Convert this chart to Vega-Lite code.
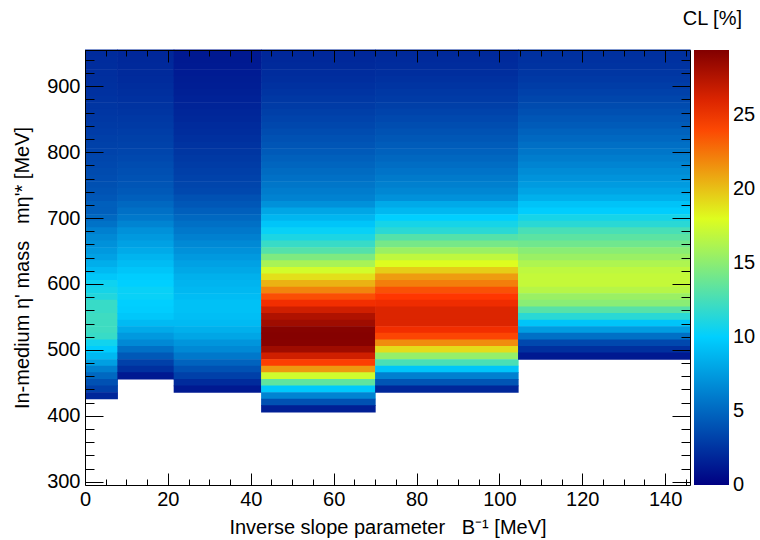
{
  "$schema": "https://vega.github.io/schema/vega-lite/v6.json",
  "width": 605,
  "height": 435,
  "autosize": {"type": "none"},
  "padding": {"left": 85, "top": 50, "right": 70, "bottom": 55},
  "background": "white",
  "title": {"text": "CL [%]", "anchor": "end", "orient": "top", "frame": "group", "dx": 52, "offset": 20, "font": "Liberation Sans", "fontSize": 20, "fontWeight": "normal", "color": "black"},
  "config": {
    "font": "Liberation Sans",
    "view": {"stroke": null},
    "axis": {"grid": false, "tickColor": "black", "domainColor": "black", "labelColor": "black", "titleColor": "black", "labelFont": "Liberation Sans", "titleFont": "Liberation Sans", "titleFontWeight": "normal", "labelFontSize": 20, "titleFontSize": 20, "tickWidth": 1, "domainWidth": 1}
  },
  "datasets": {
    "cols": [
      {"c": 1, "x1": 0, "x2": 7.8},
      {"c": 2, "x1": 7.8, "x2": 21.4},
      {"c": 3, "x1": 21.4, "x2": 42.5},
      {"c": 4, "x1": 42.5, "x2": 70},
      {"c": 5, "x1": 70, "x2": 104.5},
      {"c": 6, "x1": 104.5, "x2": 146}
    ],
    "cells": [
      {"c":1,"lo":945,"hi":955,"v":2.1},{"c":1,"lo":935,"hi":945,"v":2.12},{"c":1,"lo":925,"hi":935,"v":2.16},{"c":1,"lo":915,"hi":925,"v":2.2},{"c":1,"lo":905,"hi":915,"v":2.26},{"c":1,"lo":895,"hi":905,"v":2.32},{"c":1,"lo":885,"hi":895,"v":2.39},{"c":1,"lo":875,"hi":885,"v":2.46},{"c":1,"lo":865,"hi":875,"v":2.55},{"c":1,"lo":855,"hi":865,"v":2.63},{"c":1,"lo":845,"hi":855,"v":2.72},{"c":1,"lo":835,"hi":845,"v":2.82},{"c":1,"lo":825,"hi":835,"v":2.92},{"c":1,"lo":815,"hi":825,"v":3.03},{"c":1,"lo":805,"hi":815,"v":3.13},{"c":1,"lo":795,"hi":805,"v":3.25},{"c":1,"lo":785,"hi":795,"v":3.36},{"c":1,"lo":775,"hi":785,"v":3.49},{"c":1,"lo":765,"hi":775,"v":3.61},{"c":1,"lo":755,"hi":765,"v":3.74},{"c":1,"lo":745,"hi":755,"v":3.87},{"c":1,"lo":735,"hi":745,"v":4.0},{"c":1,"lo":725,"hi":735,"v":4.2},{"c":1,"lo":715,"hi":725,"v":4.6},{"c":1,"lo":705,"hi":715,"v":4.6},{"c":1,"lo":695,"hi":705,"v":5.0},{"c":1,"lo":685,"hi":695,"v":5.5},{"c":1,"lo":675,"hi":685,"v":6.2},{"c":1,"lo":665,"hi":675,"v":6.6},{"c":1,"lo":655,"hi":665,"v":7.0},{"c":1,"lo":645,"hi":655,"v":7.4},{"c":1,"lo":635,"hi":645,"v":7.8},{"c":1,"lo":625,"hi":635,"v":8.4},{"c":1,"lo":615,"hi":625,"v":9.0},{"c":1,"lo":605,"hi":615,"v":9.6},{"c":1,"lo":595,"hi":605,"v":10.5},{"c":1,"lo":585,"hi":595,"v":10.8},{"c":1,"lo":575,"hi":585,"v":11.2},{"c":1,"lo":565,"hi":575,"v":12.0},{"c":1,"lo":555,"hi":565,"v":12.0},{"c":1,"lo":545,"hi":555,"v":12.2},{"c":1,"lo":535,"hi":545,"v":12.2},{"c":1,"lo":525,"hi":535,"v":12.2},{"c":1,"lo":515,"hi":525,"v":12.0},{"c":1,"lo":505,"hi":515,"v":10.6},{"c":1,"lo":495,"hi":505,"v":9.9},{"c":1,"lo":485,"hi":495,"v":8.9},{"c":1,"lo":475,"hi":485,"v":7.7},{"c":1,"lo":465,"hi":475,"v":6.2},{"c":1,"lo":455,"hi":465,"v":5.0},{"c":1,"lo":445,"hi":455,"v":3.9},{"c":1,"lo":435,"hi":445,"v":3.1},{"c":1,"lo":425,"hi":435,"v":1.9},
      {"c":2,"lo":945,"hi":955,"v":1.9},{"c":2,"lo":935,"hi":945,"v":1.92},{"c":2,"lo":925,"hi":935,"v":1.97},{"c":2,"lo":915,"hi":925,"v":2.03},{"c":2,"lo":905,"hi":915,"v":2.1},{"c":2,"lo":895,"hi":905,"v":2.18},{"c":2,"lo":885,"hi":895,"v":2.27},{"c":2,"lo":875,"hi":885,"v":2.36},{"c":2,"lo":865,"hi":875,"v":2.46},{"c":2,"lo":855,"hi":865,"v":2.57},{"c":2,"lo":845,"hi":855,"v":2.69},{"c":2,"lo":835,"hi":845,"v":2.81},{"c":2,"lo":825,"hi":835,"v":2.94},{"c":2,"lo":815,"hi":825,"v":3.07},{"c":2,"lo":805,"hi":815,"v":3.21},{"c":2,"lo":795,"hi":805,"v":3.35},{"c":2,"lo":785,"hi":795,"v":3.5},{"c":2,"lo":775,"hi":785,"v":3.65},{"c":2,"lo":765,"hi":775,"v":3.8},{"c":2,"lo":755,"hi":765,"v":3.97},{"c":2,"lo":745,"hi":755,"v":4.13},{"c":2,"lo":735,"hi":745,"v":4.3},{"c":2,"lo":725,"hi":735,"v":4.6},{"c":2,"lo":715,"hi":725,"v":5.0},{"c":2,"lo":705,"hi":715,"v":5.4},{"c":2,"lo":695,"hi":705,"v":5.8},{"c":2,"lo":685,"hi":695,"v":6.4},{"c":2,"lo":675,"hi":685,"v":7.0},{"c":2,"lo":665,"hi":675,"v":7.4},{"c":2,"lo":655,"hi":665,"v":7.8},{"c":2,"lo":645,"hi":655,"v":8.2},{"c":2,"lo":635,"hi":645,"v":8.7},{"c":2,"lo":625,"hi":635,"v":9.1},{"c":2,"lo":615,"hi":625,"v":9.5},{"c":2,"lo":605,"hi":615,"v":9.9},{"c":2,"lo":595,"hi":605,"v":10.0},{"c":2,"lo":585,"hi":595,"v":10.3},{"c":2,"lo":575,"hi":585,"v":10.3},{"c":2,"lo":565,"hi":575,"v":10.0},{"c":2,"lo":555,"hi":565,"v":9.9},{"c":2,"lo":545,"hi":555,"v":9.6},{"c":2,"lo":535,"hi":545,"v":9.0},{"c":2,"lo":525,"hi":535,"v":8.2},{"c":2,"lo":515,"hi":525,"v":7.4},{"c":2,"lo":505,"hi":515,"v":6.6},{"c":2,"lo":495,"hi":505,"v":5.4},{"c":2,"lo":485,"hi":495,"v":4.3},{"c":2,"lo":475,"hi":485,"v":3.1},{"c":2,"lo":465,"hi":475,"v":2.3},{"c":2,"lo":455,"hi":465,"v":1.2},
      {"c":3,"lo":945,"hi":955,"v":1.2},{"c":3,"lo":935,"hi":945,"v":1.22},{"c":3,"lo":925,"hi":935,"v":1.27},{"c":3,"lo":915,"hi":925,"v":1.32},{"c":3,"lo":905,"hi":915,"v":1.39},{"c":3,"lo":895,"hi":905,"v":1.47},{"c":3,"lo":885,"hi":895,"v":1.55},{"c":3,"lo":875,"hi":885,"v":1.64},{"c":3,"lo":865,"hi":875,"v":1.74},{"c":3,"lo":855,"hi":865,"v":1.85},{"c":3,"lo":845,"hi":855,"v":1.95},{"c":3,"lo":835,"hi":845,"v":2.07},{"c":3,"lo":825,"hi":835,"v":2.19},{"c":3,"lo":815,"hi":825,"v":2.32},{"c":3,"lo":805,"hi":815,"v":2.45},{"c":3,"lo":795,"hi":805,"v":2.59},{"c":3,"lo":785,"hi":795,"v":2.73},{"c":3,"lo":775,"hi":785,"v":2.88},{"c":3,"lo":765,"hi":775,"v":3.02},{"c":3,"lo":755,"hi":765,"v":3.18},{"c":3,"lo":745,"hi":755,"v":3.34},{"c":3,"lo":735,"hi":745,"v":3.5},{"c":3,"lo":725,"hi":735,"v":3.9},{"c":3,"lo":715,"hi":725,"v":4.2},{"c":3,"lo":705,"hi":715,"v":4.6},{"c":3,"lo":695,"hi":705,"v":5.0},{"c":3,"lo":685,"hi":695,"v":5.4},{"c":3,"lo":675,"hi":685,"v":5.8},{"c":3,"lo":665,"hi":675,"v":6.2},{"c":3,"lo":655,"hi":665,"v":6.6},{"c":3,"lo":645,"hi":655,"v":7.0},{"c":3,"lo":635,"hi":645,"v":7.4},{"c":3,"lo":625,"hi":635,"v":7.8},{"c":3,"lo":615,"hi":625,"v":8.1},{"c":3,"lo":605,"hi":615,"v":8.5},{"c":3,"lo":595,"hi":605,"v":8.7},{"c":3,"lo":585,"hi":595,"v":8.9},{"c":3,"lo":575,"hi":585,"v":9.1},{"c":3,"lo":565,"hi":575,"v":9.3},{"c":3,"lo":555,"hi":565,"v":9.3},{"c":3,"lo":545,"hi":555,"v":9.2},{"c":3,"lo":535,"hi":545,"v":9.0},{"c":3,"lo":525,"hi":535,"v":8.5},{"c":3,"lo":515,"hi":525,"v":8.0},{"c":3,"lo":505,"hi":515,"v":7.2},{"c":3,"lo":495,"hi":505,"v":6.6},{"c":3,"lo":485,"hi":495,"v":5.8},{"c":3,"lo":475,"hi":485,"v":4.8},{"c":3,"lo":465,"hi":475,"v":3.9},{"c":3,"lo":455,"hi":465,"v":3.1},{"c":3,"lo":445,"hi":455,"v":2.1},{"c":3,"lo":435,"hi":445,"v":1.2},
      {"c":4,"lo":945,"hi":955,"v":1.9},{"c":4,"lo":935,"hi":945,"v":1.94},{"c":4,"lo":925,"hi":935,"v":2.02},{"c":4,"lo":915,"hi":925,"v":2.12},{"c":4,"lo":905,"hi":915,"v":2.24},{"c":4,"lo":895,"hi":905,"v":2.38},{"c":4,"lo":885,"hi":895,"v":2.53},{"c":4,"lo":875,"hi":885,"v":2.69},{"c":4,"lo":865,"hi":875,"v":2.86},{"c":4,"lo":855,"hi":865,"v":3.05},{"c":4,"lo":845,"hi":855,"v":3.24},{"c":4,"lo":835,"hi":845,"v":3.45},{"c":4,"lo":825,"hi":835,"v":3.67},{"c":4,"lo":815,"hi":825,"v":3.9},{"c":4,"lo":805,"hi":815,"v":4.13},{"c":4,"lo":795,"hi":805,"v":4.37},{"c":4,"lo":785,"hi":795,"v":4.63},{"c":4,"lo":775,"hi":785,"v":4.89},{"c":4,"lo":765,"hi":775,"v":5.15},{"c":4,"lo":755,"hi":765,"v":5.43},{"c":4,"lo":745,"hi":755,"v":5.71},{"c":4,"lo":735,"hi":745,"v":6.0},{"c":4,"lo":725,"hi":735,"v":6.3},{"c":4,"lo":715,"hi":725,"v":7.0},{"c":4,"lo":705,"hi":715,"v":8.0},{"c":4,"lo":695,"hi":705,"v":8.8},{"c":4,"lo":685,"hi":695,"v":9.5},{"c":4,"lo":675,"hi":685,"v":10.3},{"c":4,"lo":665,"hi":675,"v":11.0},{"c":4,"lo":655,"hi":665,"v":12.0},{"c":4,"lo":645,"hi":655,"v":13.0},{"c":4,"lo":635,"hi":645,"v":14.5},{"c":4,"lo":625,"hi":635,"v":16.0},{"c":4,"lo":615,"hi":625,"v":17.5},{"c":4,"lo":605,"hi":615,"v":19.0},{"c":4,"lo":595,"hi":605,"v":20.5},{"c":4,"lo":585,"hi":595,"v":22.0},{"c":4,"lo":575,"hi":585,"v":23.8},{"c":4,"lo":565,"hi":575,"v":25.2},{"c":4,"lo":555,"hi":565,"v":26.5},{"c":4,"lo":545,"hi":555,"v":27.7},{"c":4,"lo":535,"hi":545,"v":28.3},{"c":4,"lo":525,"hi":535,"v":29.2},{"c":4,"lo":515,"hi":525,"v":29.3},{"c":4,"lo":505,"hi":515,"v":29.2},{"c":4,"lo":495,"hi":505,"v":28.3},{"c":4,"lo":485,"hi":495,"v":26.5},{"c":4,"lo":475,"hi":485,"v":24.3},{"c":4,"lo":465,"hi":475,"v":21.3},{"c":4,"lo":455,"hi":465,"v":17.4},{"c":4,"lo":445,"hi":455,"v":13.4},{"c":4,"lo":435,"hi":445,"v":9.7},{"c":4,"lo":425,"hi":435,"v":6.4},{"c":4,"lo":415,"hi":425,"v":3.9},{"c":4,"lo":405,"hi":415,"v":1.5},
      {"c":5,"lo":945,"hi":955,"v":2.0},{"c":5,"lo":935,"hi":945,"v":2.05},{"c":5,"lo":925,"hi":935,"v":2.13},{"c":5,"lo":915,"hi":925,"v":2.24},{"c":5,"lo":905,"hi":915,"v":2.37},{"c":5,"lo":895,"hi":905,"v":2.52},{"c":5,"lo":885,"hi":895,"v":2.69},{"c":5,"lo":875,"hi":885,"v":2.86},{"c":5,"lo":865,"hi":875,"v":3.06},{"c":5,"lo":855,"hi":865,"v":3.26},{"c":5,"lo":845,"hi":855,"v":3.48},{"c":5,"lo":835,"hi":845,"v":3.71},{"c":5,"lo":825,"hi":835,"v":3.94},{"c":5,"lo":815,"hi":825,"v":4.19},{"c":5,"lo":805,"hi":815,"v":4.45},{"c":5,"lo":795,"hi":805,"v":4.71},{"c":5,"lo":785,"hi":795,"v":4.99},{"c":5,"lo":775,"hi":785,"v":5.28},{"c":5,"lo":765,"hi":775,"v":5.57},{"c":5,"lo":755,"hi":765,"v":5.87},{"c":5,"lo":745,"hi":755,"v":6.18},{"c":5,"lo":735,"hi":745,"v":6.5},{"c":5,"lo":725,"hi":735,"v":7.0},{"c":5,"lo":715,"hi":725,"v":8.2},{"c":5,"lo":705,"hi":715,"v":8.9},{"c":5,"lo":695,"hi":705,"v":10.0},{"c":5,"lo":685,"hi":695,"v":10.8},{"c":5,"lo":675,"hi":685,"v":11.5},{"c":5,"lo":665,"hi":675,"v":13.0},{"c":5,"lo":655,"hi":665,"v":14.2},{"c":5,"lo":645,"hi":655,"v":15.5},{"c":5,"lo":635,"hi":645,"v":16.8},{"c":5,"lo":625,"hi":635,"v":18.0},{"c":5,"lo":615,"hi":625,"v":19.6},{"c":5,"lo":605,"hi":615,"v":21.2},{"c":5,"lo":595,"hi":605,"v":22.2},{"c":5,"lo":585,"hi":595,"v":23.7},{"c":5,"lo":575,"hi":585,"v":24.6},{"c":5,"lo":565,"hi":575,"v":25.3},{"c":5,"lo":555,"hi":565,"v":26.0},{"c":5,"lo":545,"hi":555,"v":26.0},{"c":5,"lo":535,"hi":545,"v":26.0},{"c":5,"lo":525,"hi":535,"v":25.2},{"c":5,"lo":515,"hi":525,"v":24.1},{"c":5,"lo":505,"hi":515,"v":21.7},{"c":5,"lo":495,"hi":505,"v":19.1},{"c":5,"lo":485,"hi":495,"v":15.3},{"c":5,"lo":475,"hi":485,"v":12.6},{"c":5,"lo":465,"hi":475,"v":9.5},{"c":5,"lo":455,"hi":465,"v":6.2},{"c":5,"lo":445,"hi":455,"v":4.1},{"c":5,"lo":435,"hi":445,"v":1.9},
      {"c":6,"lo":945,"hi":955,"v":2.3},{"c":6,"lo":935,"hi":945,"v":2.36},{"c":6,"lo":925,"hi":935,"v":2.46},{"c":6,"lo":915,"hi":925,"v":2.6},{"c":6,"lo":905,"hi":915,"v":2.76},{"c":6,"lo":895,"hi":905,"v":2.95},{"c":6,"lo":885,"hi":895,"v":3.16},{"c":6,"lo":875,"hi":885,"v":3.38},{"c":6,"lo":865,"hi":875,"v":3.62},{"c":6,"lo":855,"hi":865,"v":3.87},{"c":6,"lo":845,"hi":855,"v":4.14},{"c":6,"lo":835,"hi":845,"v":4.42},{"c":6,"lo":825,"hi":835,"v":4.72},{"c":6,"lo":815,"hi":825,"v":5.03},{"c":6,"lo":805,"hi":815,"v":5.35},{"c":6,"lo":795,"hi":805,"v":5.68},{"c":6,"lo":785,"hi":795,"v":6.02},{"c":6,"lo":775,"hi":785,"v":6.38},{"c":6,"lo":765,"hi":775,"v":6.74},{"c":6,"lo":755,"hi":765,"v":7.12},{"c":6,"lo":745,"hi":755,"v":7.5},{"c":6,"lo":735,"hi":745,"v":7.9},{"c":6,"lo":725,"hi":735,"v":8.5},{"c":6,"lo":715,"hi":725,"v":9.4},{"c":6,"lo":705,"hi":715,"v":9.9},{"c":6,"lo":695,"hi":705,"v":10.8},{"c":6,"lo":685,"hi":695,"v":11.5},{"c":6,"lo":675,"hi":685,"v":12.6},{"c":6,"lo":665,"hi":675,"v":13.3},{"c":6,"lo":655,"hi":665,"v":14.0},{"c":6,"lo":645,"hi":655,"v":14.9},{"c":6,"lo":635,"hi":645,"v":15.5},{"c":6,"lo":625,"hi":635,"v":16.2},{"c":6,"lo":615,"hi":625,"v":16.8},{"c":6,"lo":605,"hi":615,"v":17.0},{"c":6,"lo":595,"hi":605,"v":17.0},{"c":6,"lo":585,"hi":595,"v":16.5},{"c":6,"lo":575,"hi":585,"v":15.5},{"c":6,"lo":565,"hi":575,"v":14.9},{"c":6,"lo":555,"hi":565,"v":13.1},{"c":6,"lo":545,"hi":555,"v":11.5},{"c":6,"lo":535,"hi":545,"v":9.5},{"c":6,"lo":525,"hi":535,"v":7.6},{"c":6,"lo":515,"hi":525,"v":5.4},{"c":6,"lo":505,"hi":515,"v":3.5},{"c":6,"lo":495,"hi":505,"v":2.3},{"c":6,"lo":485,"hi":495,"v":1.2}
    ],
    "axisdummy": [{"a": 0, "b": 300}]
  },
  "resolve": {"axis": {"x": "independent", "y": "independent"}},
  "layer": [
    {
      "data": {"name": "cells"},
      "transform": [{"lookup": "c", "from": {"data": {"name": "cols"}, "key": "c", "fields": ["x1", "x2"]}}],
      "mark": {"type": "rect", "y2Offset": -0.6, "x2Offset": 0.6},
      "encoding": {
        "x": {"field": "x1", "type": "quantitative", "scale": {"domain": [0, 146], "nice": false, "zero": false},
              "axis": {"orient": "bottom", "zindex": 2, "values": [0, 20, 40, 60, 80, 100, 120, 140], "tickSize": -12, "domain": true, "labelPadding": 16, "labelFlush": false, "title": "Inverse slope parameter\u00a0\u00a0\u00a0B⁻¹ [MeV]", "titlePadding": 8}},
        "x2": {"field": "x2"},
        "y": {"field": "lo", "type": "quantitative", "scale": {"domain": [295, 955], "nice": false, "zero": false},
              "axis": {"orient": "left", "zindex": 2, "values": [300, 400, 500, 600, 700, 800, 900], "tickSize": -18, "domain": true, "labelPadding": 23, "labelFlush": false, "title": "In-medium η' mass\u00a0\u00a0\u00a0mη'* [MeV]", "titlePadding": 14}},
        "y2": {"field": "hi"},
        "color": {"field": "v", "type": "quantitative",
                  "scale": {"type": "linear", "domain": [0, 10.0, 17.93, 24.7, 29.4], "range": ["#000082", "#00CFFF", "#DEFF1F", "#FF3300", "#820000"], "interpolate": "rgb"},
                  "legend": {"type": "gradient", "orient": "none", "legendX": 609, "legendY": 0, "direction": "vertical", "gradientLength": 435, "gradientThickness": 35, "gradientStrokeWidth": 0, "values": [0, 5, 10, 15, 20, 25], "labelFontSize": 20, "labelColor": "black", "labelFont": "Liberation Sans", "labelOffset": 4, "labelOverlap": false, "title": null,
                             "encode": {"labels": {"update": {"baseline": {"value": "middle"}}}}}}
      }
    },
    {
      "data": {"name": "axisdummy"},
      "mark": {"type": "point", "opacity": 0},
      "encoding": {
        "x": {"field": "a", "type": "quantitative", "scale": {"domain": [0, 146], "nice": false, "zero": false},
              "axis": {"orient": "top", "zindex": 2, "values": [0, 20, 40, 60, 80, 100, 120, 140], "tickSize": -12, "domain": true, "labels": false, "title": null}},
        "y": {"field": "b", "type": "quantitative", "scale": {"domain": [295, 955], "nice": false, "zero": false},
              "axis": {"orient": "right", "zindex": 2, "values": [300, 400, 500, 600, 700, 800, 900], "tickSize": -18, "domain": true, "labels": false, "title": null}}
      }
    },
    {
      "data": {"name": "axisdummy"},
      "mark": {"type": "point", "opacity": 0},
      "encoding": {
        "x": {"field": "a", "type": "quantitative", "scale": {"domain": [0, 146], "nice": false, "zero": false},
              "axis": {"orient": "bottom", "zindex": 2, "values": [5, 10, 15, 25, 30, 35, 45, 50, 55, 65, 70, 75, 85, 90, 95, 105, 110, 115, 125, 130, 135, 145], "tickSize": -6, "domain": false, "labels": false, "title": null}},
        "y": {"field": "b", "type": "quantitative", "scale": {"domain": [295, 955], "nice": false, "zero": false},
              "axis": {"orient": "left", "zindex": 2, "values": [320, 340, 360, 380, 420, 440, 460, 480, 520, 540, 560, 580, 620, 640, 660, 680, 720, 740, 760, 780, 820, 840, 860, 880, 920, 940], "tickSize": -9, "domain": false, "labels": false, "title": null}}
      }
    },
    {
      "data": {"name": "axisdummy"},
      "mark": {"type": "point", "opacity": 0},
      "encoding": {
        "x": {"field": "a", "type": "quantitative", "scale": {"domain": [0, 146], "nice": false, "zero": false},
              "axis": {"orient": "top", "zindex": 2, "values": [5, 10, 15, 25, 30, 35, 45, 50, 55, 65, 70, 75, 85, 90, 95, 105, 110, 115, 125, 130, 135, 145], "tickSize": -6, "domain": false, "labels": false, "title": null}},
        "y": {"field": "b", "type": "quantitative", "scale": {"domain": [295, 955], "nice": false, "zero": false},
              "axis": {"orient": "right", "zindex": 2, "values": [320, 340, 360, 380, 420, 440, 460, 480, 520, 540, 560, 580, 620, 640, 660, 680, 720, 740, 760, 780, 820, 840, 860, 880, 920, 940], "tickSize": -9, "domain": false, "labels": false, "title": null}}
      }
    }
  ]
}
